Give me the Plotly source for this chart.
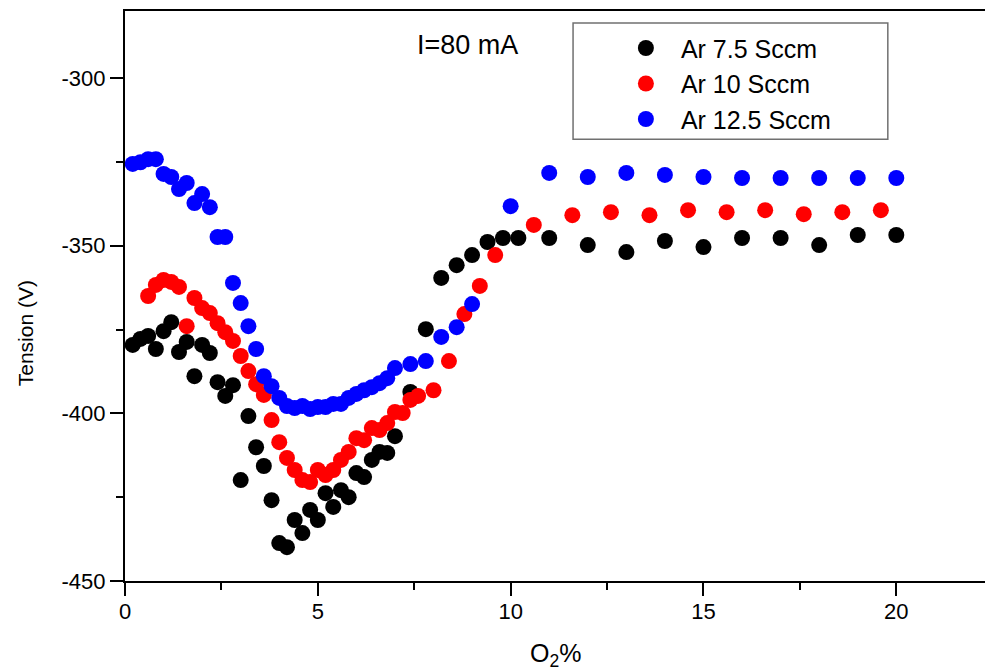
import plotly.graph_objects as go

# ---- data ----
x_black = [0.2, 0.4, 0.6, 0.8, 1.0, 1.2, 1.4, 1.6, 1.8, 2.0, 2.2, 2.4, 2.6, 2.8, 3.0, 3.2, 3.4, 3.6, 3.8,
           4.0, 4.2, 4.4, 4.6, 4.8, 5.0, 5.2, 5.4, 5.6, 5.8, 6.0, 6.2, 6.4, 6.6, 6.8, 7.0, 7.4, 7.8,
           8.2, 8.6, 9.0, 9.4, 9.8, 10.2, 11, 12, 13, 14, 15, 16, 17, 18, 19, 20]
y_black = [-379.6, -377.8, -376.9, -380.8, -375.5, -372.8, -381.7, -378.7, -388.9, -379.6, -382.0,
           -390.7, -394.8, -391.6, -419.9, -400.8, -410.1, -415.7, -425.9, -438.7, -439.9, -431.8,
           -435.7, -428.8, -431.8, -423.8, -427.9, -422.9, -425.0, -417.8, -419.0, -413.9, -411.5,
           -411.8, -406.8, -393.6, -374.9, -359.6, -355.8, -352.8, -348.9, -347.7, -347.7, -347.7,
           -349.8, -351.9, -348.6, -350.4, -347.7, -347.7, -349.8, -346.8, -346.8]

x_red = [0.6, 0.8, 1.0, 1.2, 1.4, 1.6, 1.8, 2.0, 2.2, 2.4, 2.6, 2.8, 3.0, 3.2, 3.4, 3.6, 3.8, 4.0,
         4.2, 4.4, 4.6, 4.8, 5.0, 5.2, 5.4, 5.6, 5.8, 6.0, 6.2, 6.4, 6.6, 6.8, 7.0, 7.2, 7.4, 7.6,
         8.0, 8.4, 8.8, 9.2, 9.6, 10.6, 11.6, 12.6, 13.6, 14.6, 15.6, 16.6, 17.6, 18.6, 19.6]
y_red = [-365.0, -361.7, -360.2, -360.8, -362.3, -374.0, -365.6, -368.6, -370.1, -373.1, -375.8,
         -378.4, -382.9, -387.4, -391.3, -394.5, -402.0, -408.6, -413.3, -416.9, -419.9, -420.5,
         -416.9, -418.4, -416.9, -413.9, -411.5, -407.4, -408.0, -404.4, -405.0, -402.9, -399.6,
         -399.9, -396.0, -394.8, -393.1, -384.4, -370.4, -362.0, -352.8, -343.8, -340.9, -340.0,
         -340.9, -339.4, -340.0, -339.4, -340.6, -340.0, -339.4]

x_blue = [0.2, 0.4, 0.6, 0.8, 1.0, 1.2, 1.4, 1.6, 1.8, 2.0, 2.2, 2.4, 2.6, 2.8, 3.0, 3.2, 3.4, 3.6,
          3.8, 4.0, 4.2, 4.4, 4.6, 4.8, 5.0, 5.2, 5.4, 5.6, 5.8, 6.0, 6.2, 6.4, 6.6, 6.8, 7.0, 7.4,
          7.8, 8.2, 8.6, 9.0, 10.0, 11, 12, 13, 14, 15, 16, 17, 18, 19, 20]
y_blue = [-325.6, -325.1, -324.2, -324.2, -328.6, -329.5, -333.1, -331.3, -337.3, -334.6, -338.5,
          -347.4, -347.4, -361.1, -367.1, -374.0, -380.8, -388.9, -391.9, -395.4, -397.8, -398.4,
          -397.8, -398.7, -398.1, -398.1, -397.2, -397.2, -395.4, -394.2, -393.1, -392.2, -391.0,
          -389.5, -386.5, -385.3, -384.4, -377.2, -374.3, -367.4, -338.2, -328.3, -329.5, -328.3,
          -328.9, -329.5, -329.8, -329.8, -329.8, -329.8, -329.8]

series_names = ["Ar 7.5 Sccm", "Ar 10 Sccm", "Ar 12.5 Sccm"]
series_colors = ["#000000", "#ff0000", "#0000ff"]

x_ticks = [0, 5, 10, 15, 20]
x_ticklabels = ["0", "5", "10", "15", "20"]
y_ticks = [-450, -400, -350, -300]
y_ticklabels = ["-450", "-400", "-350", "-300"]

FONT = "Liberation Sans, Arial, sans-serif"

fig = go.Figure()
for xs, ys, name, col in zip([x_black, x_red, x_blue], [y_black, y_red, y_blue],
                             series_names, series_colors):
    fig.add_trace(go.Scatter(x=xs, y=ys, mode="markers", name=name,
                             marker=dict(color=col, size=16, line=dict(width=0))))

axis_common = dict(showgrid=False, zeroline=False, showline=True, linecolor="black",
                   linewidth=2, ticks="outside", tickcolor="black", tickwidth=2,
                   ticklen=13, tickfont=dict(family=FONT, size=22, color="black"))

fig.update_layout(
    width=985, height=671,
    margin=dict(l=125, r=0, t=11, b=90),
    paper_bgcolor="white", plot_bgcolor="white",
    font=dict(family=FONT, color="black"),
    xaxis=dict(range=[0, 22.3], tickvals=x_ticks, ticktext=x_ticklabels, mirror=True,
               ticklabelstandoff=-3,
               minor=dict(dtick=2.5, ticks="outside", ticklen=7, tickwidth=2, tickcolor="black"),
               **axis_common),
    yaxis=dict(range=[-450, -280], tickvals=y_ticks, ticktext=y_ticklabels,
               minor=dict(dtick=25, ticks="outside", ticklen=7, tickwidth=2, tickcolor="black"),
               **axis_common),
    showlegend=True,
    legend=dict(x=0.565, y=0.975, xanchor="left", yanchor="top", bgcolor="rgba(0,0,0,0)",
                borderwidth=0, font=dict(family=FONT, size=25, color="black"),
                tracegroupgap=0, itemwidth=60),
    shapes=[dict(type="rect", xref="paper", yref="paper", x0=0.521, x1=0.887, y0=0.775, y1=0.979,
                 line=dict(color="#707070", width=1.5), fillcolor="rgba(0,0,0,0)", layer="below")],
    annotations=[
        dict(text="I=80 mA", xref="paper", yref="paper", x=0.398, y=0.94, showarrow=False,
             xanchor="center", yanchor="middle",
             font=dict(family=FONT, size=27, color="black")),
        dict(text="Tension (V)", xref="paper", yref="paper", x=-0.116, y=0.435, showarrow=False,
             xanchor="center", yanchor="middle", textangle=-90,
             font=dict(family=FONT, size=21, color="black")),
        dict(text="O<sub>2</sub>%", xref="paper", yref="paper", x=0.5, y=-0.13, showarrow=False,
             xanchor="center", yanchor="middle",
             font=dict(family=FONT, size=25, color="black")),
    ],
)

fig.write_html("out.html", config={"displayModeBar": False},
               post_script="document.body.style.margin='0';document.body.style.overflow='hidden';")
